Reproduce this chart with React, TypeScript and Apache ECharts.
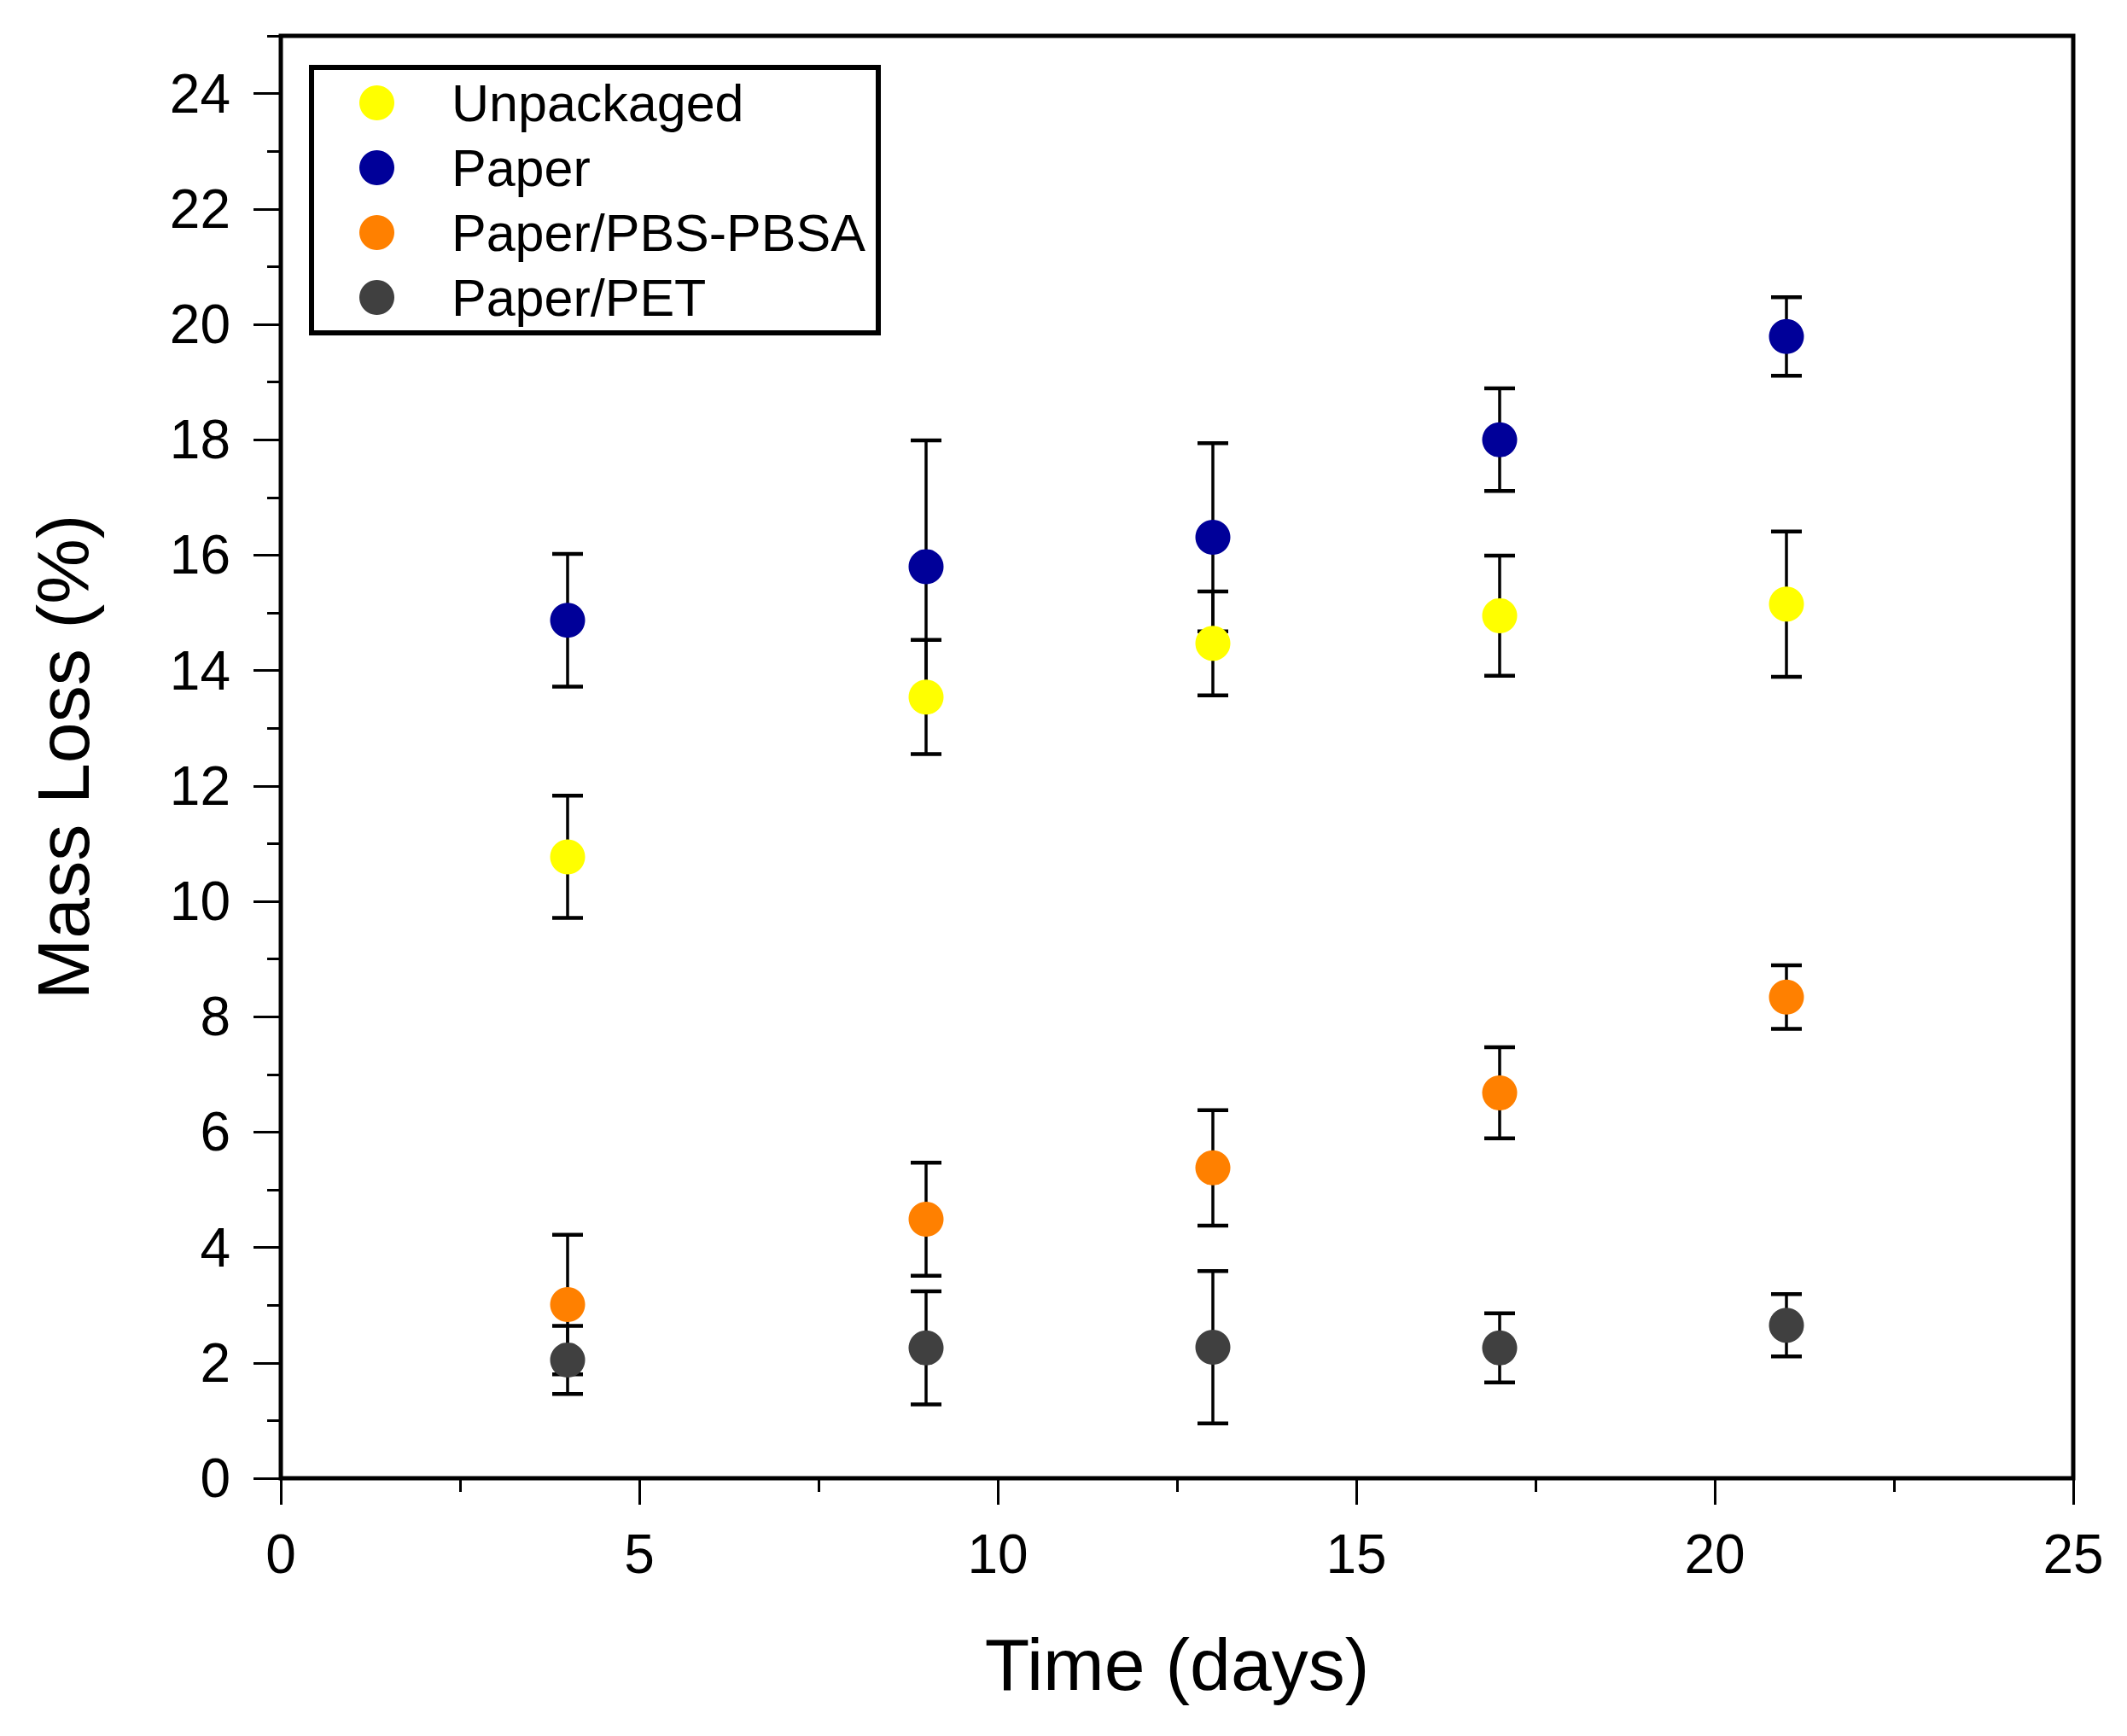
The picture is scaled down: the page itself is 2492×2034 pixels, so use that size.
import React, { useEffect, useRef } from "react";
import * as echarts from "echarts";

const days = [4, 9, 13, 17, 21];
const seriesNames = ["Unpackaged", "Paper", "Paper/PBS-PBSA", "Paper/PET"];
const seriesColors = ["#FFFF00", "#000099", "#FF8000", "#404040"];

const unpackagedMean = [10.77, 13.54, 14.47, 14.95, 15.15];
const unpackagedErr = [1.06, 0.99, 0.9, 1.04, 1.26];
const paperMean = [14.87, 15.8, 16.31, 18.0, 19.79];
const paperErr = [1.15, 2.19, 1.63, 0.89, 0.68];
const pbsMean = [3.01, 4.49, 5.38, 6.68, 8.34];
const pbsErr = [1.21, 0.98, 1.0, 0.79, 0.55];
const petMean = [2.05, 2.26, 2.27, 2.26, 2.65];
const petErr = [0.59, 0.98, 1.32, 0.6, 0.54];

const yMajorTicks = [0, 2, 4, 6, 8, 10, 12, 14, 16, 18, 20, 22, 24];
const yMinorTicks = [1, 3, 5, 7, 9, 11, 13, 15, 17, 19, 21, 23, 25];

const means = [unpackagedMean, paperMean, pbsMean, petMean];
const errs = [unpackagedErr, paperErr, pbsErr, petErr];

const FONT = "Liberation Sans, Arial, Helvetica, sans-serif";

export default function App() {
  const ref = useRef<HTMLDivElement>(null);
  useEffect(() => {
    if (!ref.current) return;
    const chart = echarts.init(ref.current, undefined, { renderer: "svg" });

    const errSeries = seriesNames.map((name, i) => ({
      name: name + " error",
      type: "custom",
      z: 2,
      encode: { x: 0, y: [1, 2] },
      data: days.map((d, k) => [d, means[i][k] - errs[i][k], means[i][k] + errs[i][k]]),
      renderItem: (params: any, api: any) => {
        const x = api.value(0);
        const lo = api.value(1);
        const hi = api.value(2);
        const top = api.coord([x, hi]);
        const bot = api.coord([x, lo]);
        const hw = 18;
        return {
          type: "group",
          children: [
            {
              type: "line",
              shape: { x1: top[0], y1: top[1], x2: bot[0], y2: bot[1] },
              style: { stroke: "#000", lineWidth: 3.5 },
            },
            {
              type: "line",
              shape: { x1: top[0] - hw, y1: top[1], x2: top[0] + hw, y2: top[1] },
              style: { stroke: "#000", lineWidth: 4.5 },
            },
            {
              type: "line",
              shape: { x1: bot[0] - hw, y1: bot[1], x2: bot[0] + hw, y2: bot[1] },
              style: { stroke: "#000", lineWidth: 4.5 },
            },
          ],
        };
      },
    }));

    const scatterSeries = seriesNames.map((name, i) => ({
      name,
      type: "scatter",
      z: 3,
      symbol: "circle",
      symbolSize: 41,
      itemStyle: { color: seriesColors[i], opacity: 1 },
      data: days.map((d, k) => [d, means[i][k]]),
    }));

    chart.setOption({
      animation: false,
      backgroundColor: "#ffffff",
      textStyle: { fontFamily: FONT },
      grid: {
        left: 329,
        right: 63,
        top: 42,
        bottom: 302,
        containLabel: false,
        show: true,
        borderColor: "#000",
        borderWidth: 5,
        backgroundColor: "transparent",
      },
      legend: {
        data: seriesNames,
        orient: "vertical",
        left: 421,
        top: 90,
        padding: 0,
        itemWidth: 41,
        itemHeight: 41,
        itemGap: 15,
        icon: "circle",
        selectedMode: false,
        textStyle: {
          fontFamily: FONT,
          fontSize: 61,
          lineHeight: 60,
          color: "#000",
          padding: [0, 0, 0, 62],
        },
      },
      graphic: [
        {
          type: "rect",
          shape: { x: 365, y: 79, width: 664, height: 311 },
          style: { fill: "transparent", stroke: "#000", lineWidth: 6 },
          z: 10,
        },
      ],
      xAxis: {
        type: "value",
        min: 0,
        max: 25,
        interval: 5,
        name: "Time (days)",
        nameLocation: "middle",
        nameGap: 175,
        nameTextStyle: { fontFamily: FONT, fontSize: 86, color: "#000" },
        axisLine: { show: true, lineStyle: { color: "#000", width: 4 } },
        axisTick: { show: true, inside: false, length: 31, lineStyle: { color: "#000", width: 3 } },
        minorTick: { show: true, splitNumber: 2, length: 16, lineStyle: { color: "#000", width: 3 } },
        axisLabel: { fontFamily: FONT, fontSize: 64, color: "#000", margin: 57 },
        splitLine: { show: false },
        minorSplitLine: { show: false },
      },
      yAxis: [
        {
          type: "value",
          min: 0,
          max: 25,
          position: "left",
          name: "Mass Loss (%)",
          nameLocation: "middle",
          nameGap: 212,
          nameTextStyle: { fontFamily: FONT, fontSize: 86, color: "#000" },
          axisLine: { show: true, lineStyle: { color: "#000", width: 4 } },
          axisTick: {
            show: true,
            inside: false,
            length: 32,
            customValues: yMajorTicks,
            lineStyle: { color: "#000", width: 3 },
          },
          axisLabel: {
            fontFamily: FONT,
            fontSize: 64,
            color: "#000",
            margin: 59,
            customValues: yMajorTicks,
          },
          splitLine: { show: false },
        },
        {
          type: "value",
          min: 0,
          max: 25,
          position: "left",
          axisLine: { show: false },
          axisTick: {
            show: true,
            inside: false,
            length: 16,
            customValues: yMinorTicks,
            lineStyle: { color: "#000", width: 3 },
          },
          axisLabel: { show: false },
          splitLine: { show: false },
        },
      ],
      series: [...errSeries, ...scatterSeries],
    });

    return () => chart.dispose();
  }, []);

  return (
    <div
      ref={ref}
      style={{ position: "absolute", left: 0, top: 0, width: 2492, height: 2034 }}
    />
  );
}
